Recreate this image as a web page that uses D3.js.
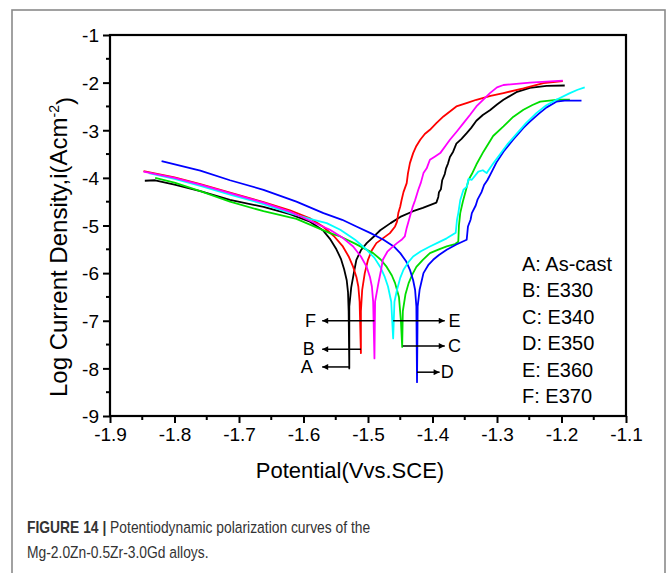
<!DOCTYPE html>
<html>
<head>
<meta charset="utf-8">
<script src="https://cdn.jsdelivr.net/npm/d3@7"></script>
<style>
  html, body { margin: 0; padding: 0; background: #fff; }
  svg { display: block; }
  text { font-family: "Liberation Sans", Arial, sans-serif; fill: #000; }
  .cap { font-family: "Liberation Sans", Arial, sans-serif; fill: #333; }
</style>
</head>
<body>
<svg id="chart" width="668" height="573"></svg>
<script>
// ---------------- DATA ----------------
const seriesNames = ["A: As-cast", "B: E330", "C: E340", "D: E350", "E: E360", "F: E370"];
const seriesColors = ["#000000", "#ff0000", "#00dd00", "#0000ff", "#00ffff", "#ff00ff"];

const curveA = [[-1.846,-4.06],[-1.830,-4.05],[-1.800,-4.14],[-1.760,-4.28],[-1.714,-4.46],[-1.662,-4.61],[-1.621,-4.76],[-1.590,-4.92],[-1.570,-5.10],[-1.559,-5.28],[-1.549,-5.50],[-1.542,-5.70],[-1.537,-5.92],[-1.533,-6.15],[-1.531,-6.40],[-1.530,-6.80],[-1.529,-8.00],
  [-1.529,-6.70],[-1.526,-6.30],[-1.522,-6.00],[-1.518,-5.72],[-1.511,-5.52],[-1.502,-5.37],[-1.490,-5.22],[-1.481,-5.10],[-1.465,-4.95],[-1.450,-4.82],[-1.430,-4.70],[-1.415,-4.63],[-1.394,-4.52],[-1.391,-4.40],[-1.390,-4.30],[-1.387,-4.24],[-1.385,-4.05],[-1.381,-3.92],[-1.379,-3.80],[-1.376,-3.70],[-1.373,-3.56],[-1.368,-3.45],[-1.363,-3.28],[-1.355,-3.18],[-1.347,-3.06],[-1.340,-2.95],[-1.332,-2.80],[-1.322,-2.68],[-1.311,-2.58],[-1.300,-2.46],[-1.290,-2.36],[-1.270,-2.20],[-1.249,-2.11],[-1.223,-2.07],[-1.195,-2.06]];

const curveB = [[-1.848,-3.86],[-1.800,-3.99],[-1.760,-4.13],[-1.714,-4.31],[-1.662,-4.51],[-1.621,-4.68],[-1.590,-4.85],[-1.570,-5.02],[-1.553,-5.22],[-1.539,-5.44],[-1.530,-5.65],[-1.523,-5.87],[-1.518,-6.08],[-1.515,-6.28],[-1.513,-6.60],[-1.511,-7.68],
  [-1.511,-6.80],[-1.509,-6.35],[-1.505,-6.00],[-1.500,-5.72],[-1.494,-5.52],[-1.487,-5.37],[-1.476,-5.26],[-1.466,-5.16],[-1.458,-5.02],[-1.455,-4.92],[-1.453,-4.74],[-1.450,-4.60],[-1.448,-4.47],[-1.445,-4.30],[-1.440,-4.11],[-1.438,-3.90],[-1.435,-3.69],[-1.430,-3.48],[-1.425,-3.33],[-1.419,-3.20],[-1.412,-3.08],[-1.404,-2.99],[-1.394,-2.85],[-1.383,-2.71],[-1.363,-2.50],[-1.345,-2.42],[-1.332,-2.36],[-1.310,-2.28],[-1.290,-2.22],[-1.259,-2.12],[-1.228,-2.01],[-1.198,-1.97]];

const curveC = [[-1.830,-4.00],[-1.800,-4.10],[-1.760,-4.28],[-1.714,-4.50],[-1.662,-4.70],[-1.611,-4.86],[-1.590,-4.98],[-1.559,-5.16],[-1.543,-5.23],[-1.520,-5.38],[-1.492,-5.58],[-1.480,-5.72],[-1.471,-5.87],[-1.463,-6.05],[-1.458,-6.21],[-1.452,-6.50],[-1.449,-7.00],[-1.447,-7.55],
  [-1.446,-6.80],[-1.442,-6.45],[-1.437,-6.21],[-1.431,-6.02],[-1.425,-5.87],[-1.415,-5.72],[-1.404,-5.58],[-1.390,-5.50],[-1.378,-5.44],[-1.365,-5.39],[-1.360,-5.34],[-1.359,-5.00],[-1.357,-4.74],[-1.353,-4.50],[-1.348,-4.25],[-1.344,-4.04],[-1.339,-3.92],[-1.332,-3.72],[-1.321,-3.45],[-1.306,-3.12],[-1.290,-2.92],[-1.275,-2.72],[-1.259,-2.57],[-1.245,-2.47],[-1.233,-2.40],[-1.208,-2.36],[-1.187,-2.36]];

const curveD = [[-1.820,-3.65],[-1.760,-3.85],[-1.714,-4.05],[-1.662,-4.25],[-1.611,-4.50],[-1.569,-4.74],[-1.540,-4.88],[-1.518,-5.02],[-1.496,-5.16],[-1.476,-5.30],[-1.460,-5.44],[-1.450,-5.58],[-1.441,-5.75],[-1.435,-5.93],[-1.430,-6.15],[-1.427,-6.35],[-1.425,-6.70],[-1.424,-8.29],
  [-1.423,-6.70],[-1.420,-6.35],[-1.414,-6.00],[-1.406,-5.82],[-1.399,-5.72],[-1.390,-5.62],[-1.378,-5.51],[-1.363,-5.40],[-1.347,-5.30],[-1.345,-5.02],[-1.341,-4.88],[-1.339,-4.74],[-1.333,-4.58],[-1.330,-4.45],[-1.324,-4.30],[-1.320,-4.15],[-1.315,-4.05],[-1.310,-3.92],[-1.301,-3.68],[-1.290,-3.45],[-1.275,-3.20],[-1.259,-2.95],[-1.249,-2.82],[-1.235,-2.65],[-1.223,-2.52],[-1.208,-2.40],[-1.195,-2.38],[-1.169,-2.38]];

const curveE = [[-1.840,-3.90],[-1.800,-4.02],[-1.760,-4.17],[-1.714,-4.35],[-1.662,-4.55],[-1.621,-4.74],[-1.590,-4.86],[-1.564,-4.95],[-1.543,-5.09],[-1.520,-5.30],[-1.502,-5.51],[-1.490,-5.68],[-1.481,-5.87],[-1.474,-6.08],[-1.469,-6.28],[-1.464,-6.60],[-1.461,-7.37],
  [-1.459,-6.60],[-1.455,-6.35],[-1.450,-6.10],[-1.445,-5.93],[-1.438,-5.78],[-1.430,-5.65],[-1.418,-5.54],[-1.404,-5.44],[-1.390,-5.35],[-1.378,-5.27],[-1.364,-5.15],[-1.362,-4.88],[-1.360,-4.74],[-1.357,-4.47],[-1.352,-4.25],[-1.347,-4.19],[-1.344,-4.02],[-1.339,-4.04],[-1.329,-3.87],[-1.322,-3.84],[-1.316,-3.90],[-1.306,-3.70],[-1.295,-3.50],[-1.283,-3.28],[-1.270,-3.08],[-1.255,-2.85],[-1.239,-2.64],[-1.224,-2.48],[-1.208,-2.36],[-1.187,-2.22],[-1.175,-2.15],[-1.164,-2.10]];

const curveF = [[-1.848,-3.87],[-1.800,-4.00],[-1.760,-4.14],[-1.714,-4.32],[-1.662,-4.52],[-1.621,-4.71],[-1.590,-4.90],[-1.559,-5.09],[-1.540,-5.25],[-1.523,-5.44],[-1.511,-5.65],[-1.502,-5.87],[-1.497,-6.08],[-1.494,-6.28],[-1.492,-6.60],[-1.490,-7.79],
  [-1.489,-6.60],[-1.484,-6.22],[-1.480,-5.95],[-1.477,-5.72],[-1.470,-5.55],[-1.462,-5.45],[-1.455,-5.37],[-1.448,-5.30],[-1.443,-5.23],[-1.440,-5.05],[-1.435,-4.81],[-1.431,-4.62],[-1.427,-4.47],[-1.422,-4.25],[-1.418,-4.10],[-1.414,-3.90],[-1.409,-3.80],[-1.404,-3.62],[-1.396,-3.55],[-1.388,-3.48],[-1.380,-3.33],[-1.373,-3.20],[-1.362,-3.02],[-1.352,-2.85],[-1.342,-2.68],[-1.332,-2.50],[-1.320,-2.34],[-1.311,-2.22],[-1.300,-2.10],[-1.290,-2.05],[-1.249,-2.00],[-1.198,-1.96]];

const curves = [curveA, curveB, curveC, curveD, curveE, curveF];

const xTicks = [-1.9, -1.8, -1.7, -1.6, -1.5, -1.4, -1.3, -1.2, -1.1];
const yTicks = [-1, -2, -3, -4, -5, -6, -7, -8, -9];

// arrow annotations: label, start potential (on curve), tip potential, log i level
const arrowLabels = ["F", "B", "A", "E", "C", "D"];
const arrowFrom   = [-1.490, -1.511, -1.529, -1.461, -1.446, -1.424];
const arrowTo     = [-1.571, -1.571, -1.571, -1.381, -1.381, -1.389];
const arrowLevel  = [-7.00, -7.60, -7.97, -7.00, -7.53, -8.08];
const arrowLabelX = [-1.589, -1.592, -1.595, -1.366, -1.366, -1.377];

const xTitle = "Potential(Vvs.SCE)";
const captionBold = "FIGURE 14 | ";
const captionLine1 = "Potentiodynamic polarization curves of the";
const captionLine2 = "Mg-2.0Zn-0.5Zr-3.0Gd alloys.";

// ---------------- LAYOUT ----------------
const svg = d3.select("#chart");
const L = 110, T = 35, W = 516, H = 381;

// outer frame
svg.append("rect").attr("x", 12).attr("y", 10).attr("width", 653).attr("height", 620)
  .attr("fill", "none").attr("stroke", "#8a8a8a").attr("stroke-width", 1.6);

const x = d3.scaleLinear().domain([-1.9, -1.1]).range([L, L + W]);
const y = d3.scaleLinear().domain([-9, -1]).range([T + H, T]);

const g = svg.append("g");

// minor ticks
const xMinor = d3.range(-1.85, -1.1, 0.1);
const yMinor = d3.range(-8.5, -1, 1);
g.selectAll(".xminor").data(xMinor).join("line")
  .attr("x1", d => x(d)).attr("x2", d => x(d)).attr("y1", T + H).attr("y2", T + H + 4)
  .attr("stroke", "#000").attr("stroke-width", 2);
g.selectAll(".yminor").data(yMinor).join("line")
  .attr("x1", L).attr("x2", L - 4).attr("y1", d => y(d)).attr("y2", d => y(d))
  .attr("stroke", "#000").attr("stroke-width", 2);

// axes
const xAxis = d3.axisBottom(x).tickValues(xTicks).tickFormat(d3.format(".1f")).tickSize(7).tickPadding(5);
const yAxis = d3.axisLeft(y).tickValues(yTicks).tickFormat(d => d3.format("d")(d)).tickSize(7).tickPadding(4);

const gx = g.append("g").attr("transform", `translate(0,${T + H})`).call(xAxis);
const gy = g.append("g").attr("transform", `translate(${L},0)`).call(yAxis);
[gx, gy].forEach(a => {
  a.select(".domain").remove();
  a.selectAll(".tick line").attr("stroke", "#000").attr("stroke-width", 2);
  a.selectAll(".tick text").style("font-size", "19px").attr("fill", "#000")
    .style("font-family", '"Liberation Sans", Arial, sans-serif');
});
gx.selectAll(".tick text").text(d => d3.format(".1f")(d).replace("−", "-"));
gy.selectAll(".tick text").text(d => String(d)).attr("dy", "0.36em");

// curves
const line = d3.line().x(d => x(d[0])).y(d => y(d[1]));
g.selectAll(".curve").data(curves).join("path")
  .attr("d", line).attr("fill", "none")
  .attr("stroke", (d, i) => seriesColors[i]).attr("stroke-width", 1.8)
  .attr("stroke-linejoin", "round");

// plot frame
g.append("rect").attr("x", L).attr("y", T).attr("width", W).attr("height", H)
  .attr("fill", "none").attr("stroke", "#000").attr("stroke-width", 2.2);

// arrows
svg.append("defs").append("marker").attr("id", "ah")
  .attr("viewBox", "0 0 10 10").attr("refX", 10).attr("refY", 5)
  .attr("markerWidth", 9).attr("markerHeight", 6).attr("markerUnits", "userSpaceOnUse")
  .attr("orient", "auto")
  .append("path").attr("d", "M0,0 L10,5 L0,10 Z").attr("fill", "#000");

arrowLabels.forEach((lab, i) => {
  g.append("line")
    .attr("x1", x(arrowFrom[i])).attr("x2", x(arrowTo[i]))
    .attr("y1", y(arrowLevel[i])).attr("y2", y(arrowLevel[i]))
    .attr("stroke", "#000").attr("stroke-width", 1.5).attr("marker-end", "url(#ah)");
  g.append("text").attr("x", x(arrowLabelX[i])).attr("y", y(arrowLevel[i]))
    .attr("dy", "0.34em").attr("text-anchor", "middle")
    .style("font-size", "18px").text(lab);
});

// legend text
g.selectAll(".leg").data(seriesNames).join("text")
  .attr("x", 522).attr("y", (d, i) => 271 + i * 26.4)
  .style("font-size", "20px").text(d => d);

// axis titles
svg.append("text").attr("x", 350).attr("y", 478).attr("text-anchor", "middle")
  .style("font-size", "22px").text(xTitle);

const yl = svg.append("text").attr("transform", "translate(67,247) rotate(-90)")
  .attr("text-anchor", "middle").style("font-size", "24px");
yl.append("tspan").text("Log Current Density,i(Acm");
yl.append("tspan").attr("dy", "-0.55em").style("font-size", "14px").text("-2");
yl.append("tspan").attr("dy", "0.55em").text(")");

// caption (condensed)
const c1 = svg.append("text").attr("class", "cap")
  .attr("transform", "translate(27,533) scale(0.84,1)").style("font-size", "16.5px");
c1.append("tspan").style("font-weight", "bold").text(captionBold);
c1.append("tspan").text(captionLine1);
svg.append("text").attr("class", "cap")
  .attr("transform", "translate(27,558) scale(0.84,1)").style("font-size", "16.5px").text(captionLine2);
</script>
</body>
</html>
